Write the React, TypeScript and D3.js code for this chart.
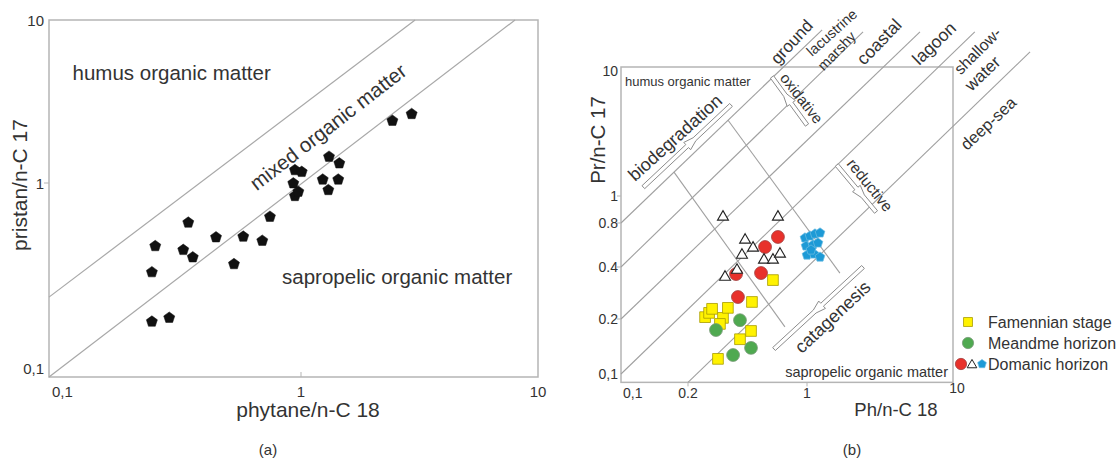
import React, { useEffect, useRef } from "react";
import * as d3 from "d3";

const W = 1116;
const H = 459;
const FONT = "'Liberation Sans', Arial, Helvetica, sans-serif";
const INK = "#333";

// ---------- panel (a): pristan/n-C17 vs phytane/n-C18 ----------
const tickValsA = [0.1, 1, 10];
const tickLabelsA = ["0,1", "1", "10"];
const phytaneA = [0.256, 0.3, 0.256, 0.264, 0.357, 0.341, 0.372, 0.46, 0.542, 0.59, 0.702, 0.753, 0.932, 0.946, 1.007, 0.946, 0.976, 1.235, 1.313, 1.451, 1.436, 1.304, 2.43, 2.93];
const pristanA = [0.193, 0.202, 0.347, 0.473, 0.625, 0.452, 0.414, 0.525, 0.382, 0.529, 0.504, 0.67, 0.996, 1.2, 1.17, 0.857, 0.902, 1.05, 1.45, 1.32, 1.05, 0.92, 2.41, 2.65];
const boundariesA = [
  [[0.1, 0.258], [3.03, 10]],
  [[0.1, 0.1], [8.0, 10]],
];
const regionsA = [
  { text: "humus organic matter", x: 0.124, y: 4.73, angle: 0, anchor: "start" },
  { text: "mixed organic matter", x: 1.3, y: 2.21, angle: -37.8, anchor: "middle" },
  { text: "sapropelic organic matter", x: 0.841, y: 0.328, angle: 0, anchor: "start" },
];

// ---------- panel (b): Pr/n-C17 vs Ph/n-C18 ----------
const xTicksB = [0.1, 0.2, 1, 10];
const xTickLabelsB = ["0,1", "0.2", "1", "10"];
const yTicksB = [0.1, 0.2, 0.4, 0.8, 1, 10];
const yTickLabelsB = ["0,1", "0.2", "0.4", "0.8", "1", "10"];

const famPh = [0.252, 0.266, 0.277, 0.321, 0.308, 0.343, 0.475, 0.631, 0.469, 0.404, 0.3];
const famPr = [0.205, 0.217, 0.229, 0.203, 0.188, 0.232, 0.251, 0.336, 0.172, 0.155, 0.121];
const meaPh = [0.292, 0.404, 0.368, 0.469];
const meaPr = [0.174, 0.197, 0.127, 0.139];
const domRedPh = [0.383, 0.393, 0.537, 0.567, 0.675];
const domRedPr = [0.364, 0.268, 0.369, 0.548, 0.642];
const domTriPh = [0.321, 0.675, 0.433, 0.482, 0.415, 0.559, 0.631, 0.694, 0.33, 0.388];
const domTriPr = [0.841, 0.841, 0.612, 0.54, 0.483, 0.447, 0.447, 0.491, 0.35, 0.384];
const domBluePh = [0.973, 1.048, 1.134, 1.228, 0.987, 1.099, 1.189, 1.0, 1.117, 1.228, 1.065];
const domBluePr = [0.632, 0.652, 0.673, 0.684, 0.557, 0.566, 0.584, 0.483, 0.491, 0.468, 0.523];

const faciesLinesB = [
  [[0.1, 0.8], [1.27, 19.4]],
  [[0.1, 0.4], [2.42, 18.7]],
  [[0.1, 0.2], [5.94, 18.7]],
  [[0.1, 0.1], [14.1, 18.7]],
  [[0.2, 0.09], [33.7, 13.1]],
];
const crossLinesB = [
  [[0.173, 1.53], [0.742, 0.181]],
  [[0.343, 3.88], [1.68, 0.369]],
];
const arrowsB = [
  { from: [0.126, 1.17], to: [0.358, 5.08], at: 0.5 },
  { from: [1.0, 3.55], to: [0.623, 8.37], at: 0.45 },
  { from: [1.6, 1.74], to: [2.97, 0.876], at: 0.5 },
  { from: [2.42, 0.4], to: [0.64, 0.137], at: 0.46 },
];
const labelsB = [
  { text: "humus organic matter", x: 0.1042, y: 7.79, angle: 0, size: 13, anchor: "start" },
  { text: "biodegradation", x: 0.1748, y: 2.84, angle: -42, size: 18, anchor: "middle" },
  { text: "oxidative", x: 0.93, y: 5.72, angle: 52, size: 15, anchor: "middle" },
  { text: "reductive", x: 2.7, y: 1.217, angle: 51, size: 15.5, anchor: "middle" },
  { text: "catagenesis", x: 1.495, y: 0.206, angle: -43, size: 18, anchor: "middle" },
  { text: "sapropelic organic matter", x: 9.24, y: 0.103, angle: 0, size: 14.5, anchor: "end" },
  { text: "ground", x: 0.812, y: 15.7, angle: -47, size: 17, anchor: "middle" },
  { text: "lacustrine", x: 1.476, y: 18.5, angle: -42, size: 14.5, anchor: "middle" },
  { text: "marshy", x: 1.597, y: 13.35, angle: -46, size: 14.5, anchor: "middle" },
  { text: "coastal", x: 3.11, y: 15.7, angle: -46, size: 17.5, anchor: "middle" },
  { text: "lagoon", x: 7.41, y: 15.27, angle: -44, size: 17.5, anchor: "middle" },
  { text: "shallow-", x: 14.7, y: 13.35, angle: -45, size: 16, anchor: "middle" },
  { text: "water", x: 15.9, y: 8.94, angle: -43.5, size: 17, anchor: "middle" },
  { text: "deep-sea", x: 17.45, y: 3.66, angle: -43, size: 16.5, anchor: "middle" },
];
const legendNames = ["Famennian stage", "Meandme horizon", "Domanic horizon"];

// regular pentagon symbol for d3.symbol
const pentagon = {
  draw(ctx: any, size: number) {
    const r = Math.sqrt(size / 2.378);
    for (let i = 0; i < 5; i++) {
      const a = -Math.PI / 2 + (i * 2 * Math.PI) / 5;
      const px = r * Math.cos(a);
      const py = r * Math.sin(a);
      if (i === 0) ctx.moveTo(px, py);
      else ctx.lineTo(px, py);
    }
    ctx.closePath();
  },
};

function markers(g: any, pts: any[], x: any, y: any, type: any, size: number, fill: string, stroke: string, sw: number) {
  const sym = d3.symbol().type(type).size(size);
  g.append("g")
    .selectAll("path")
    .data(pts)
    .enter()
    .append("path")
    .attr("d", sym)
    .attr("transform", (d: number[]) => `translate(${x(d[0])},${y(d[1])})`)
    .attr("fill", fill)
    .attr("stroke", stroke)
    .attr("stroke-width", sw);
}

function text(g: any, str: string, px: number, py: number, size: number, anchor = "middle", angle = 0, dy = "0.35em") {
  return g
    .append("text")
    .attr("transform", `translate(${px},${py}) rotate(${angle})`)
    .attr("dy", dy)
    .attr("text-anchor", anchor)
    .attr("font-family", FONT)
    .attr("font-size", size)
    .attr("fill", INK)
    .text(str);
}

// hollow, narrow arrow with a barb part way along
function arrowPath(x0: number, y0: number, x1: number, y1: number, at: number) {
  const dx = x1 - x0;
  const dy = y1 - y0;
  const L = Math.hypot(dx, dy);
  const ux = dx / L, uy = dy / L, nx = -uy, ny = ux;
  const h = 2, hw = 5, hl = 10, m = L * at;
  const pts = [[0, h], [m, h], [m, hw], [m + hl, h], [L, h], [L, -h], [m + hl, -h], [m, -hw], [m, -h], [0, -h]];
  return d3.line()(pts.map(([s, t]) => [x0 + ux * s + nx * t, y0 + uy * s + ny * t]) as any) + "Z";
}

function drawPanelA(g: any) {
  const x = d3.scaleLog().domain(tickValsA).range([49, 301, 538]);
  const y = d3.scaleLog().domain(tickValsA).range([377, 183, 20]);

  g.append("rect")
    .attr("x", x(0.1)).attr("y", y(10))
    .attr("width", x(10) - x(0.1)).attr("height", y(0.1) - y(10))
    .attr("fill", "none").attr("stroke", "#b5b5b5").attr("stroke-width", 1.5);
  g.append("line").attr("x1", x(0.1) - 5).attr("x2", x(0.1)).attr("y1", y(1)).attr("y2", y(1)).attr("stroke", "#b5b5b5");
  g.append("line").attr("x1", x(1)).attr("x2", x(1)).attr("y1", y(0.1)).attr("y2", y(0.1) - 5).attr("stroke", "#b5b5b5");

  g.selectAll("line.bound")
    .data(boundariesA)
    .enter()
    .append("line")
    .attr("class", "bound")
    .attr("x1", (d: any) => x(d[0][0])).attr("y1", (d: any) => y(d[0][1]))
    .attr("x2", (d: any) => x(d[1][0])).attr("y2", (d: any) => y(d[1][1]))
    .attr("stroke", "#a8a8a8").attr("stroke-width", 1.2);

  tickValsA.forEach((v, i) => {
    text(g, tickLabelsA[i], x(0.1) - 5, y(v) + (v === 0.1 ? -8 : 1), 15, "end");
    const anchor = v === 0.1 ? "start" : "middle";
    text(g, tickLabelsA[i], x(v) + (v === 0.1 ? 3 : 0), y(0.1) + 20, 15, anchor, 0, "0");
  });

  regionsA.forEach((r) => text(g, r.text, x(r.x), y(r.y), 20.5, r.anchor, r.angle));

  markers(g, d3.zip(phytaneA, pristanA), x, y, pentagon, 80, "#111", "#111", 0.5);

  text(g, "pristan/n-C 17", 20, 185, 21, "middle", -90);
  text(g, "phytane/n-C 18", 308, 410, 21);
  text(g, "(a)", 268, 450, 15);
}

function drawPanelB(g: any) {
  const x = d3.scaleLog().domain(xTicksB).range([621, 688, 807, 953]);
  const y = d3.scaleLog().domain(yTicksB).range([374, 319, 267, 223, 196, 67]);

  g.append("rect")
    .attr("x", x(0.1)).attr("y", y(10))
    .attr("width", x(10) - x(0.1)).attr("height", y(0.09) - y(10))
    .attr("fill", "none").attr("stroke", "#b5b5b5").attr("stroke-width", 1.5);

  const seg = (cls: string, data: any[]) =>
    g.selectAll("line." + cls)
      .data(data)
      .enter()
      .append("line")
      .attr("class", cls)
      .attr("x1", (d: any) => x(d[0][0])).attr("y1", (d: any) => y(d[0][1]))
      .attr("x2", (d: any) => x(d[1][0])).attr("y2", (d: any) => y(d[1][1]))
      .attr("stroke", "#a0a0a0").attr("stroke-width", 1.1);
  seg("facies", faciesLinesB);
  seg("cross", crossLinesB);

  g.selectAll("path.arrow")
    .data(arrowsB)
    .enter()
    .append("path")
    .attr("class", "arrow")
    .attr("d", (d: any) => arrowPath(x(d.from[0]), y(d.from[1]), x(d.to[0]), y(d.to[1]), d.at))
    .attr("fill", "#fff").attr("stroke", "#8c8c8c").attr("stroke-width", 1);

  // ticks
  yTicksB.forEach((v, i) => {
    if (v !== 0.1 && v !== 10)
      g.append("line").attr("x1", x(0.1) - 4).attr("x2", x(0.1)).attr("y1", y(v)).attr("y2", y(v)).attr("stroke", "#b5b5b5");
    text(g, yTickLabelsB[i], x(0.1) - 3, y(v) + (v === 10 ? 4 : 0), 14, "end");
  });
  xTicksB.forEach((v, i) => {
    if (v !== 0.1 && v !== 10)
      g.append("line").attr("x1", x(v)).attr("x2", x(v)).attr("y1", y(0.09)).attr("y2", y(0.09) + 4).attr("stroke", "#b5b5b5");
    const anchor = v === 0.1 ? "start" : "middle";
    const dx = v === 0.1 ? 2 : v === 10 ? 4 : 0;
    text(g, xTickLabelsB[i], x(v) + dx, y(0.09) + (v === 10 ? 11 : 16), 14, anchor, 0, "0");
  });

  labelsB.forEach((l) => text(g, l.text, x(l.x), y(l.y), l.size, l.anchor, l.angle));

  markers(g, d3.zip(famPh, famPr), x, y, d3.symbolSquare, 115, "#fff200", "#a89c00", 0.8);
  markers(g, d3.zip(meaPh, meaPr), x, y, d3.symbolCircle, 130, "#4fa950", "#7a9a7a", 0.8);
  markers(g, d3.zip(domRedPh, domRedPr), x, y, d3.symbolCircle, 130, "#e8312b", "#a04040", 0.8);
  markers(g, d3.zip(domTriPh, domTriPr), x, y, d3.symbolTriangle, 52, "#fff", "#222", 1.1);
  markers(g, d3.zip(domBluePh, domBluePr), x, y, pentagon, 62, "#1d9ad6", "#6fbde3", 0.7);

  // legend
  const lx = x(10) + 15;
  const ly = y(0.2) + 3;
  const step = 21;
  const one = (px: number, py: number, type: any, size: number, fill: string, stroke: string, sw: number) =>
    g.append("path").attr("d", d3.symbol().type(type).size(size)).attr("transform", `translate(${px},${py})`)
      .attr("fill", fill).attr("stroke", stroke).attr("stroke-width", sw);
  one(lx, ly, d3.symbolSquare, 80, "#fff200", "#a89c00", 0.8);
  one(lx, ly + step, d3.symbolCircle, 100, "#4fa950", "#7a9a7a", 0.8);
  one(lx - 7, ly + 2 * step, d3.symbolCircle, 100, "#e8312b", "#a04040", 0.8);
  one(lx + 4, ly + 2 * step + 1, d3.symbolTriangle, 40, "#fff", "#222", 1);
  one(lx + 14, ly + 2 * step, pentagon, 50, "#1d9ad6", "#6fbde3", 0.7);
  legendNames.forEach((n, i) => text(g, n, lx + 20, ly + i * step, 16, "start"));

  text(g, "Pr/n-C 17", 598, 140, 20.5, "middle", -90);
  text(g, "Ph/n-C 18", 896, 410, 18.5);
  text(g, "(b)", 852, 450, 15);
}

export default function App() {
  const ref = useRef<SVGSVGElement | null>(null);

  useEffect(() => {
    const svg = d3.select(ref.current);
    svg.selectAll("*").remove();
    svg.append("rect").attr("width", W).attr("height", H).attr("fill", "#fff");
    drawPanelA(svg.append("g"));
    drawPanelB(svg.append("g"));
  }, []);

  return (
    <div style={{ position: "absolute", left: 0, top: 0 }}>
      <svg ref={ref} width={W} height={H} style={{ display: "block" }} />
    </div>
  );
}
